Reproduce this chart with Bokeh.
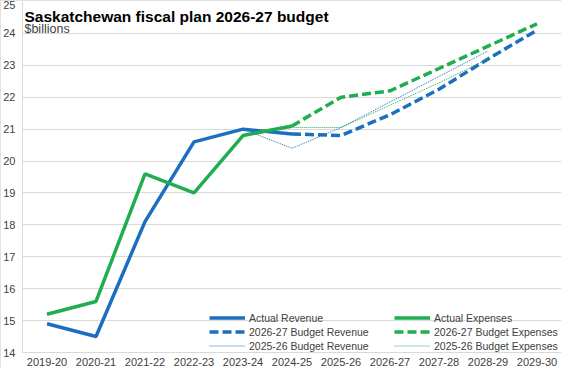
from bokeh.plotting import figure
from bokeh.models import Legend, LegendItem, Label, FixedTicker, Range1d
from bokeh.embed import file_html
from bokeh.resources import INLINE

years = ["2019-20", "2020-21", "2021-22", "2022-23", "2023-24", "2024-25",
         "2025-26", "2026-27", "2027-28", "2028-29", "2029-30"]

actual_years = years[0:6]
actual_revenue = [14.9, 14.5, 18.1, 20.6, 21.0, 20.85]
actual_expenses = [15.2, 15.6, 19.6, 19.0, 20.8, 21.1]

b2627_years = years[5:11]
b2627_revenue = [20.85, 20.8, 21.45, 22.25, 23.2, 24.1]
b2627_expenses = [21.1, 22.0, 22.2, 22.9, 23.6, 24.3]

b2526_years = years[4:10]
b2526_revenue = [21.0, 20.4, 21.05, 21.85, 22.65, 23.45]
b2526_expenses = [20.8, 21.05, 21.05, 21.75, 22.45, 23.2]

y_ticks = list(range(14, 26))

BLUE = "#1c6ebf"
GREEN = "#1fae4f"
GRID = "#d9d9d9"
TXT = "#404040"
FONT = "Liberation Sans"

p = figure(width=561, height=368, x_range=years, y_range=Range1d(14, 25),
           output_backend="svg", toolbar_location=None,
           min_border_top=1, min_border_right=0, min_border_left=0, min_border_bottom=0)
p.outline_line_color = None
p.background_fill_color = "white"
p.border_fill_color = "white"
p.styles = {"outline": "1px solid #d9d9d9", "outline-offset": "-1px"}

p.xgrid.grid_line_color = None
p.ygrid.grid_line_color = GRID
p.ygrid.grid_line_width = 1
p.yaxis.ticker = FixedTicker(ticks=y_ticks)

for ax in (p.xaxis[0], p.yaxis[0]):
    ax.axis_line_color = GRID
    ax.major_tick_line_color = None
    ax.minor_tick_line_color = None
    ax.major_tick_out = 0
    ax.major_tick_in = 0
    ax.minor_tick_out = 0
    ax.minor_tick_in = 0
    ax.major_label_text_font = FONT
    ax.major_label_text_font_size = "11px"
    ax.major_label_text_color = TXT
p.yaxis.major_label_standoff = 7
p.xaxis.major_label_standoff = 5

r_ar = p.line(actual_years, actual_revenue, line_color=BLUE, line_width=3.5)
r_ae = p.line(actual_years, actual_expenses, line_color=GREEN, line_width=3.5)
r_br = p.line(b2627_years, b2627_revenue, line_color=BLUE, line_width=3.5, line_dash="9 4")
r_be = p.line(b2627_years, b2627_expenses, line_color=GREEN, line_width=3.5, line_dash="9 4")
r_pr = p.line(b2526_years, b2526_revenue, line_color=BLUE, line_width=1, line_dash="1 1")
r_pe = p.line(b2526_years, b2526_expenses, line_color=GREEN, line_width=1, line_dash="1 1")

title = Label(x=0.04, y=24.52, text="Saskatchewan fiscal plan 2026-27 budget",
              text_font=FONT, text_font_size="15.5px", text_font_style="bold",
              text_color="black", text_baseline="alphabetic")
sub = Label(x=0.04, y=24.13, text="$billions", text_font=FONT, text_font_size="12.5px",
            text_color=TXT, text_baseline="alphabetic")
p.add_layout(title)
p.add_layout(sub)

def make_legend(items, loc):
    lg = Legend(items=items, location=loc, orientation="vertical")
    lg.background_fill_alpha = 0
    lg.border_line_color = None
    lg.padding = 0
    lg.margin = 0
    lg.spacing = 1
    lg.glyph_width = 36
    lg.glyph_height = 13
    lg.label_height = 13
    lg.label_standoff = 4
    lg.label_text_font = FONT
    lg.label_text_font_size = "10.5px"
    lg.label_text_color = TXT
    return lg

leg1 = make_legend([
    LegendItem(label="Actual Revenue", renderers=[r_ar]),
    LegendItem(label="2026-27 Budget Revenue", renderers=[r_br]),
    LegendItem(label="2025-26 Budget Revenue", renderers=[r_pr]),
], (187, 0))
leg2 = make_legend([
    LegendItem(label="Actual Expenses", renderers=[r_ae]),
    LegendItem(label="2026-27 Budget Expenses", renderers=[r_be]),
    LegendItem(label="2025-26 Budget Expenses", renderers=[r_pe]),
], (372, 0))
p.add_layout(leg1, "center")
p.add_layout(leg2, "center")

open("out.html", "w").write(file_html(p, INLINE))
